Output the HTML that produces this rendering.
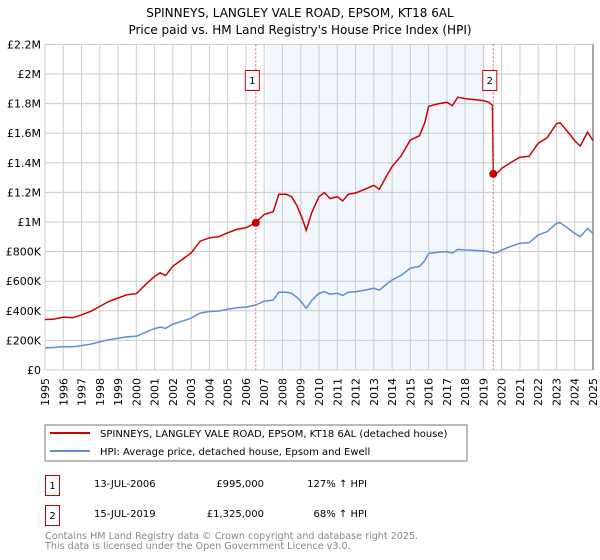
<!DOCTYPE html>
<html><head><meta charset="utf-8">
<style>
body{margin:0;background:#fff;width:600px;height:560px;overflow:hidden;font-family:"DejaVu Sans","Liberation Sans",sans-serif;}
svg{display:block}
</style></head>
<body>
<svg id="chart" width="600" height="560" xmlns="http://www.w3.org/2000/svg" font-family="DejaVu Sans, Liberation Sans, sans-serif">
<text x="300" y="17" text-anchor="middle" font-size="12">SPINNEYS, LANGLEY VALE ROAD, EPSOM, KT18 6AL</text>
<text x="300" y="34" text-anchor="middle" font-size="12">Price paid vs. HM Land Registry's House Price Index (HPI)</text>
<g id="plot"></g>
<rect x="45" y="425" width="422" height="36" fill="#fff" stroke="#777" stroke-width="1"/>
<line x1="50" y1="433" x2="90" y2="433" stroke="#cc0000" stroke-width="2"/>
<text x="100" y="437" font-size="10">SPINNEYS, LANGLEY VALE ROAD, EPSOM, KT18 6AL (detached house)</text>
<line x1="50" y1="451" x2="90" y2="451" stroke="#5b8fd4" stroke-width="2"/>
<text x="100" y="455" font-size="10">HPI: Average price, detached house, Epsom and Ewell</text>
<rect x="45.5" y="475.5" width="14" height="20" fill="#fff" stroke="#cc0000"/>
<text x="52.5" y="489" text-anchor="middle" font-size="10">1</text>
<text x="94" y="487" font-size="10">13-JUL-2006</text>
<text x="264" y="487" text-anchor="end" font-size="10">£995,000</text>
<text x="367" y="487" text-anchor="end" font-size="10">127% ↑ HPI</text>
<rect x="45.5" y="505.5" width="14" height="20" fill="#fff" stroke="#cc0000"/>
<text x="52.5" y="519" text-anchor="middle" font-size="10">2</text>
<text x="94" y="517" font-size="10">15-JUL-2019</text>
<text x="264" y="517" text-anchor="end" font-size="10">£1,325,000</text>
<text x="367" y="517" text-anchor="end" font-size="10">68% ↑ HPI</text>
<text x="45" y="539" font-size="9.6" fill="#888">Contains HM Land Registry data © Crown copyright and database right 2025.</text>
<text x="45" y="549" font-size="9.6" fill="#888">This data is licensed under the Open Government Licence v3.0.</text>
</svg>
<script>
const yearTicks=[1995,1996,1997,1998,1999,2000,2001,2002,2003,2004,2005,2006,2007,2008,2009,2010,2011,2012,2013,2014,2015,2016,2017,2018,2019,2020,2021,2022,2023,2024,2025];
const valueTicks=[0,200000,400000,600000,800000,1000000,1200000,1400000,1600000,1800000,2000000,2200000];
const valueTickLabels=["£0","£200K","£400K","£600K","£800K","£1M","£1.2M","£1.4M","£1.6M","£1.8M","£2M","£2.2M"];
const hpiDates=[1995.0,1995.5,1996.0,1996.5,1997.0,1997.5,1998.0,1998.5,1999.0,1999.5,2000.0,2000.5,2001.0,2001.3,2001.6,2002.0,2002.5,2003.0,2003.5,2004.0,2004.5,2005.0,2005.5,2006.0,2006.54,2007.0,2007.5,2007.8,2008.2,2008.5,2008.8,2009.1,2009.3,2009.6,2010.0,2010.3,2010.6,2011.0,2011.3,2011.6,2012.0,2012.5,2013.0,2013.3,2013.7,2014.0,2014.5,2015.0,2015.5,2015.8,2016.0,2016.5,2017.0,2017.3,2017.6,2018.0,2018.5,2019.0,2019.3,2019.54,2019.8,2020.0,2020.5,2021.0,2021.5,2022.0,2022.5,2023.0,2023.2,2023.6,2024.0,2024.3,2024.7,2025.0];
const hpiValues=[151000,152000,158000,156000,165000,175000,190000,205000,215000,225000,228000,255000,280000,290000,282000,310000,330000,350000,385000,395000,398000,410000,420000,425000,440000,465000,473000,525000,525000,518000,490000,450000,417000,470000,518000,530000,512000,518000,505000,525000,529000,540000,552000,540000,580000,608000,640000,687000,700000,740000,788000,795000,800000,790000,815000,811000,808000,805000,800000,789000,795000,811000,835000,856000,860000,912000,935000,991000,995000,960000,923000,901000,957000,923000];
const saleDates=[2006.54,2019.54];
const salePrices=[995000,1325000];
const saleLabels=["1","2"];

const NS="http://www.w3.org/2000/svg";
const plot=document.getElementById('plot');
const X0=45,X1=593,Y0=370,Y1=44.4;
const xs=t=>X0+(t-1995)/(2025-1995)*(X1-X0);
const ys=v=>Y0-v/2200000*(Y0-Y1);
function mk(tag,attrs){const e=document.createElementNS(NS,tag);for(const k in attrs)e.setAttribute(k,attrs[k]);plot.appendChild(e);return e;}
function hpiAt(t){for(let i=0;i<hpiDates.length-1;i++){if(t>=hpiDates[i]&&t<=hpiDates[i+1]){const f=(t-hpiDates[i])/(hpiDates[i+1]-hpiDates[i]);return hpiValues[i]+f*(hpiValues[i+1]-hpiValues[i]);}}return hpiValues[hpiValues.length-1];}

let bg=mk('rect',{x:X0,y:Y1,width:X1-X0,height:Y0-Y1,fill:'#fff'});


let sh=mk('rect',{x:xs(2007.1),y:Y1,width:xs(2019.1)-xs(2007.1),height:Y0-Y1,fill:'#eef3fc',opacity:0.75});


yearTicks.forEach(y=>{
  let g=mk('line',{x1:xs(y),x2:xs(y),y1:Y1,y2:Y0,stroke:'#cccccc','stroke-width':1});
  
  
  let t=mk('text',{x:0,y:0,'font-size':11,'text-anchor':'end',transform:`translate(${xs(y)+4},${Y0+8}) rotate(-90)`});
  t.textContent=y;
  
  
});
valueTicks.forEach((v,i)=>{
  let g=mk('line',{x1:X0,x2:X1,y1:ys(v),y2:ys(v),stroke:'#cccccc','stroke-width':1});
  
  
  let t=mk('text',{x:X0-4,y:ys(v)+4,'font-size':11,'text-anchor':'end'});
  t.textContent=valueTickLabels[i];
  
  
});
let rb=mk('line',{x1:X1,x2:X1,y1:Y1,y2:Y0,stroke:'#888','stroke-width':1.5});



let d='';hpiDates.forEach((t,i)=>{d+=(i?'L':'M')+xs(t).toFixed(1)+','+ys(hpiValues[i]).toFixed(1);});
let hl=mk('path',{d:d,fill:'none',stroke:'#5b8fd4','stroke-width':1.5});



const r1=salePrices[0]/hpiAt(saleDates[0]);
const r2=salePrices[1]/hpiAt(saleDates[1]);
let pd='';let first=true;
hpiDates.filter(t=>t<saleDates[1]-0.1).forEach(t=>{pd+=(first?'M':'L')+xs(t).toFixed(1)+','+ys(hpiAt(t)*r1).toFixed(1);first=false;});
pd+='L'+xs(saleDates[1]-0.05).toFixed(1)+','+ys(hpiAt(saleDates[1]-0.05)*r1).toFixed(1);
pd+='L'+xs(saleDates[1]).toFixed(1)+','+ys(salePrices[1]).toFixed(1);
hpiDates.filter(t=>t>saleDates[1]).forEach(t=>{pd+='L'+xs(t).toFixed(1)+','+ys(hpiAt(t)*r2).toFixed(1);});
let pl=mk('path',{d:pd,fill:'none',stroke:'#cc0000','stroke-width':1.5});



saleDates.forEach((t,i)=>{
  let vl=mk('line',{x1:xs(t),x2:xs(t),y1:Y1,y2:Y0,stroke:'#e06060','stroke-width':1,'stroke-dasharray':'2,2'});
  
  
  let c=mk('circle',{cx:xs(t),cy:ys(salePrices[i]),r:4,fill:'#cc0000'});
  
  
  let b=mk('rect',{x:xs(t)-10.5,y:70.5,width:14,height:20,fill:'#fff',stroke:'#cc0000'});
  
  
  let tx=mk('text',{x:xs(t)-3.5,y:84,'font-size':10,'text-anchor':'middle'});
  tx.textContent=saleLabels[i];
  
  
});
</script>
</body></html>
